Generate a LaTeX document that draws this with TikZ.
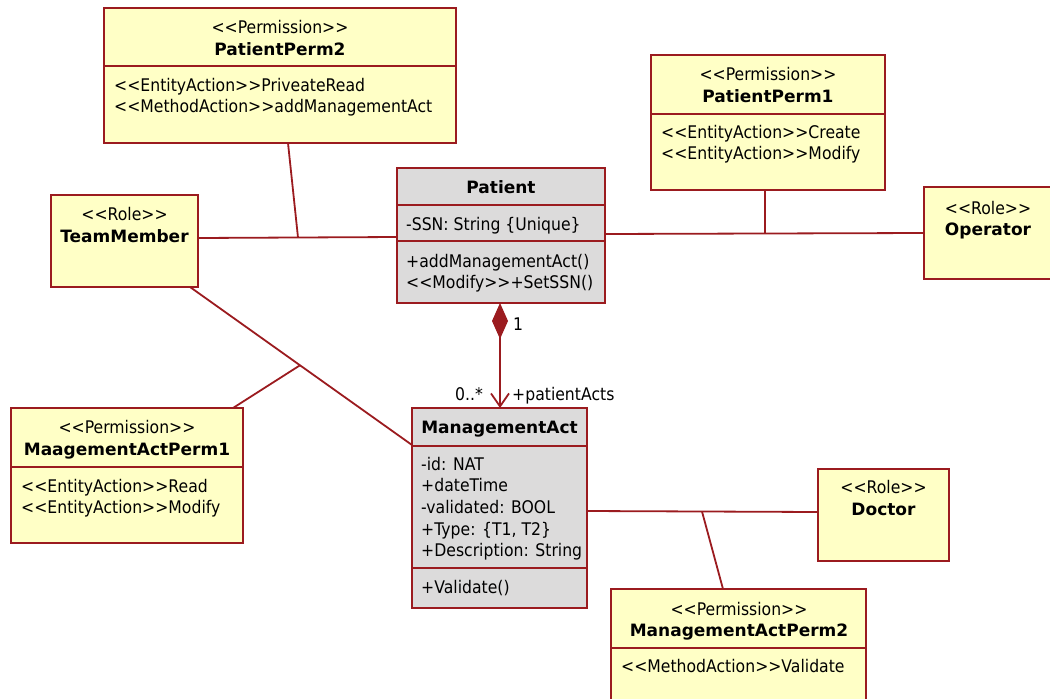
\documentclass[tikz,border=0pt]{standalone}
\usepackage{fontspec}
\usetikzlibrary{arrows.meta}
\newfontfamily\umlfont{DejaVu Sans}[FakeStretch=0.9,Ligatures=TeXOff]
\newfontfamily\umltitlefont{DejaVu Sans}[Ligatures=TeXOff]
\definecolor{umlred}{RGB}{155,27,31}
\definecolor{permfill}{RGB}{255,255,198}
\definecolor{classfill}{RGB}{220,219,219}

\begin{document}
\begin{tikzpicture}[x=1pt,y=-1pt,
  umlbox/.style={draw=umlred, line width=1.8pt, inner sep=0pt, outer sep=0pt, anchor=north west},
  permbox/.style={umlbox, fill=permfill},
  classbox/.style={umlbox, fill=classfill},
  divider/.style={draw=umlred, line width=1.8pt},
  assoc/.style={draw=umlred, line width=1.8pt},
  txt/.style={inner sep=0pt, anchor=base west, font=\umlfont\fontsize{17.4}{20}\selectfont},
  ctxt/.style={txt, anchor=base},
  ttl/.style={inner sep=0pt, anchor=base, font=\umltitlefont\bfseries\fontsize{17}{20}\selectfont},
]
\useasboundingbox (0,0) rectangle (1050,699);
\clip (0,0) rectangle (1050,699);

% ---- boxes ----
\node[permbox, minimum width=352pt, minimum height=135pt] (pp2) at (104,8) {};
\node[permbox, minimum width=234pt, minimum height=135pt] (pp1) at (651,55) {};
\node[permbox, minimum width=147pt, minimum height=92pt] (tm) at (51,195) {};
\node[classbox, minimum width=208pt, minimum height=135pt] (pat) at (397,168) {};
\node[permbox, minimum width=129pt, minimum height=92pt] (op) at (924,187) {};
\node[classbox, minimum width=175pt, minimum height=200pt] (ma) at (412,408) {};
\node[permbox, minimum width=232pt, minimum height=135pt] (map1) at (11,408) {};
\node[permbox, minimum width=131pt, minimum height=92pt] (doc) at (818,469) {};
\node[permbox, minimum width=255pt, minimum height=140pt] (map2) at (611,589) {};

% ---- compartment dividers ----
\draw[divider] (pp2.west |- 0,66) -- (pp2.east |- 0,66);
\draw[divider] (pp1.west |- 0,114) -- (pp1.east |- 0,114);
\draw[divider] (pat.west |- 0,205) -- (pat.east |- 0,205);
\draw[divider] (pat.west |- 0,241) -- (pat.east |- 0,241);
\draw[divider] (ma.west |- 0,446) -- (ma.east |- 0,446);
\draw[divider] (ma.west |- 0,568) -- (ma.east |- 0,568);
\draw[divider] (map1.west |- 0,467) -- (map1.east |- 0,467);
\draw[divider] (map2.west |- 0,648) -- (map2.east |- 0,648);

% ---- PatientPerm2 ----
\node[ctxt] (pp2s) at (280,33) {<<Permission>>};
\node[ttl] (pp2n) at (280,55) {PatientPerm2};
\node[txt] (pp2a) at (114,91) {<<EntityAction>>PriveateRead};
\node[txt] (pp2b) at (114,112) {<<MethodAction>>addManagementAct};

% ---- PatientPerm1 ----
\node[ctxt] (pp1s) at (768,80) {<<Permission>>};
\node[ttl] (pp1n) at (768,102) {PatientPerm1};
\node[txt] (pp1a) at (661,138) {<<EntityAction>>Create};
\node[txt] (pp1b) at (661,159) {<<EntityAction>>Modify};

% ---- TeamMember ----
\node[ctxt] (tms) at (124.5,220) {<<Role>>};
\node[ttl] (tmn) at (124.5,242) {TeamMember};

% ---- Patient ----
\node[ttl] (patn) at (501,193) {Patient};
\node[txt] (pata) at (406,230) {-SSN: String \{Unique\}};
\node[txt] (patm1) at (406,267) {+addManagementAct()};
\node[txt] (patm2) at (406,288) {<<Modify>>+SetSSN()};

% ---- Operator ----
\node[ctxt] (ops) at (988,214) {<<Role>>};
\node[ttl] (opn) at (988,235) {Operator};

% ---- ManagementAct ----
\node[ttl] (man) at (499.5,433) {ManagementAct};
\node[txt] (maa1) at (421,470) {-id: NAT};
\node[txt] (maa2) at (421,491.5) {+dateTime};
\node[txt] (maa3) at (421,513) {-validated: BOOL};
\node[txt] (maa4) at (421,535) {+Type: \{T1, T2\}};
\node[txt] (maa5) at (421,556.5) {+Description: String};
\node[txt] (mam1) at (421,593) {+Validate()};

% ---- MaagementActPerm1 ----
\node[ctxt] (map1s) at (127,433) {<<Permission>>};
\node[ttl] (map1n) at (127,455) {MaagementActPerm1};
\node[txt] (map1a) at (21,492) {<<EntityAction>>Read};
\node[txt] (map1b) at (21,513) {<<EntityAction>>Modify};

% ---- Doctor ----
\node[ctxt] (docs) at (883.5,493) {<<Role>>};
\node[ttl] (docn) at (883.5,515) {Doctor};

% ---- ManagementActPerm2 ----
\node[ctxt] (map2s) at (739,615) {<<Permission>>};
\node[ttl] (map2n) at (739,636) {ManagementActPerm2};
\node[txt] (map2a) at (621,672) {<<MethodAction>>Validate};

% ---- associations with attached permissions ----
\coordinate (j1) at (298,237.5);
\coordinate (j2) at (765,233.5);
\coordinate (j3) at (300,365.3);
\coordinate (j4) at (702,511.5);

\draw[assoc] (tm.east |- 0,238) -- (pat.west |- 0,237);
\draw[assoc] (pp2.south -| 288,0) -- (j1);

\draw[assoc] (pat.east |- 0,234) -- (op.west |- 0,233);
\draw[assoc] (pp1.south -| 765,0) -- (j2);

\draw[assoc] (tm.south -| 190,0) -- (ma.west |- 0,445);
\draw[assoc] (map1.north -| 233,0) -- (j3);

\draw[assoc] (ma.east |- 0,511) -- (doc.west |- 0,512);
\draw[assoc] (map2.north -| 723,0) -- (j4);

% ---- composition Patient -> ManagementAct ----
\draw[assoc, {Diamond[length=36pt,width=16pt]}-{Straight Barb[length=13pt,width=18pt]}]
  (pat.south -| 500,0) -- (ma.north -| 500,0);
\node[txt] (mult1) at (513,330) {1};
\node[txt] (multn) at (455,400) {0..*};
\node[txt] (role) at (512,400) {+patientActs};
\end{tikzpicture}
\end{document}
